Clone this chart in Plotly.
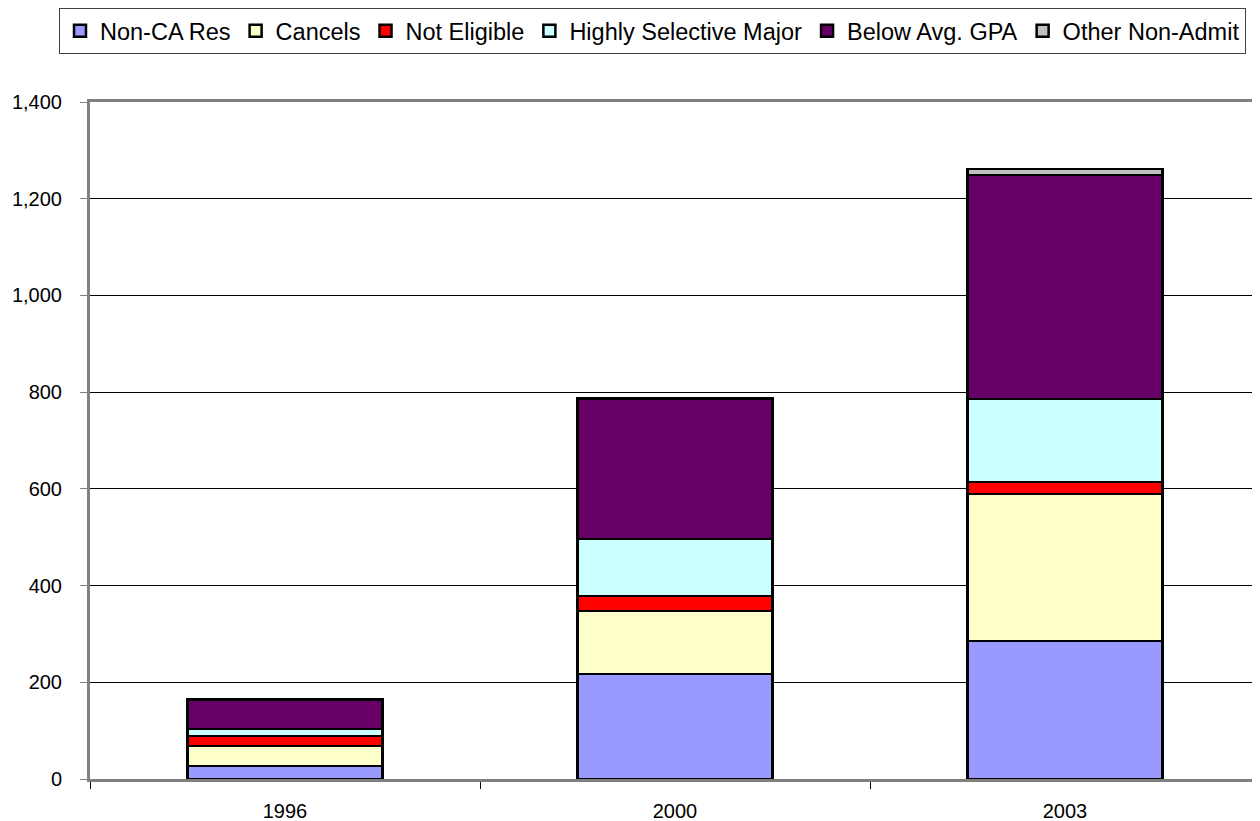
import plotly.graph_objects as go

years = ["1996", "2000", "2003"]
non_ca_res = [27, 217, 285]
cancels = [41, 130, 304]
not_eligible = [21, 31, 25]
highly_selective = [14, 118, 172]
below_avg_gpa = [60, 290, 463]
other_non_admit = [1, 2, 12]

series = [
    ("Non-CA Res", non_ca_res, "#9999FF"),
    ("Cancels", cancels, "#FFFFCC"),
    ("Not Eligible", not_eligible, "#FF0000"),
    ("Highly Selective Major", highly_selective, "#CCFFFF"),
    ("Below Avg. GPA", below_avg_gpa, "#660066"),
    ("Other Non-Admit", other_non_admit, "#C0C0C0"),
]

fig = go.Figure()
for name, vals, color in series:
    fig.add_trace(go.Bar(
        x=years, y=vals, name=name, width=0.5,
        marker=dict(color=color, line=dict(color="#000000", width=2.5)),
    ))

W = 1450
font = "Arial, Liberation Sans, sans-serif"
fig.update_layout(
    barmode="stack",
    width=W, height=813,
    margin=dict(l=82, r=W - 1252, t=94, b=42, autoexpand=False),
    paper_bgcolor="white", plot_bgcolor="white",
    font=dict(family=font, size=20, color="#000000"),
    showlegend=True,
    legend=dict(
        orientation="h",
        x=-31 / 1170, xanchor="left", y=1 + 94 / 677, yanchor="top",
        font=dict(family=font, size=23.5, color="#000000"),
        bgcolor="white", bordercolor="#404040", borderwidth=1,
        itemwidth=30, traceorder="normal", tracegroupgap=0,
    ),
)
fig.update_xaxes(
    type="category", showline=True, linecolor="#808080", linewidth=3,
    mirror=True, ticks="outside", tickson="boundaries", ticklen=7,
    tickcolor="#000000", tickwidth=1, showgrid=False,
    tickfont=dict(family=font, size=20), ticklabelstandoff=12,
    range=[-0.5, 2.5],
)
fig.update_yaxes(
    range=[0, 1400], tickvals=[0, 200, 400, 600, 800, 1000, 1200, 1400],
    ticktext=["0", "200", "400", "600", "800", "1,000", "1,200", "1,400"],
    showline=True, linecolor="#808080", linewidth=3, mirror=False,
    ticks="outside", ticklen=7, tickcolor="#808080", tickwidth=1,
    showgrid=True, gridcolor="#000000", gridwidth=1, zeroline=False,
    tickfont=dict(family=font, size=20), ticklabelstandoff=14,
)

fig.write_html("out.html")
